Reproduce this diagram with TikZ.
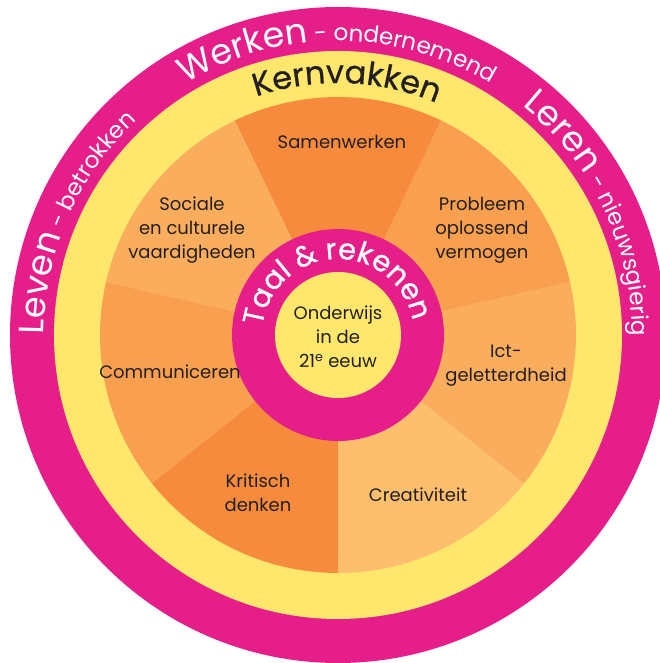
\documentclass[tikz,border=0pt]{standalone}
\usepackage{fontspec}
\setmainfont{Poppins}
\newfontfamily\boldring[FakeBold=0.7]{Poppins}
\usepackage{tikz}
\usetikzlibrary{decorations.text}
\definecolor{ringpink}{RGB}{230,30,138}
\definecolor{ringyellow}{RGB}{255,230,108}
\definecolor{orangedark}{RGB}{246,139,61}
\definecolor{orangemid}{RGB}{249,160,80}
\definecolor{orangelight}{RGB}{251,173,94}
\definecolor{orangepale}{RGB}{253,190,110}
\definecolor{textdark}{RGB}{35,31,32}

\begin{document}
\begin{tikzpicture}[x=1pt, y=1pt,
		skill/.style={align=center, text=textdark, font=\fontsize{18}{24}\selectfont}]

		\useasboundingbox (-338,-328) rectangle (321,335);

		% outer rings
		\fill[ringpink] (0,0) circle (328);
		\fill[ringyellow] (0,0) circle (284);

		% seven wedges
		\foreach \a/\c in {64.29/orangedark, 115.71/orangelight, 167.14/orangemid, 218.57/orangedark, 270/orangepale, 321.43/orangelight, 12.86/orangemid}
			\fill[\c] (0,0) -- (\a:238) arc[start angle=\a, delta angle=51.43, radius=238] -- cycle;

		% centre rings
		\fill[ringpink] (0,0) circle (106);
		\fill[ringyellow] (0,0) circle (63);

		% skills
		\node[skill] (samen) at (4,193) {Samenwerken};
		\node[skill] (sociaal) at (-146,105) {Sociale\\en culturele\\vaardigheden};
		\node[skill] (probleem) at (144,105) {Probleem\\oplossend\\vermogen};
		\node[skill] (commu) at (-168,-37) {Communiceren};
		\node[skill] (ict) at (168,-31) {Ict-\\geletterdheid};
		\node[skill] (kritisch) at (-80,-158) {Kritisch\\denken};
		\node[skill] (creatief) at (80,-160) {Creativiteit};
		\node[skill] (onderwijs) at (0,-2) {Onderwijs\\in de\\21\textsuperscript{e} eeuw};

		% text round the rings
		\path[decorate, decoration={text along path, text align=center,
			text={|\color{white}\fontsize{35}{35}\selectfont|Werken|\color{white}\fontsize{23}{23}\selectfont| - ondernemend}}]
			(130:294) arc[start angle=130, end angle=50, radius=294];
		\path[decorate, decoration={text along path, text align=center,
			text={|\color{white}\fontsize{35}{35}\selectfont|Leven|\color{white}\fontsize{23}{23}\selectfont| - betrokken}}]
			(196.5:294) arc[start angle=196.5, end angle=116.5, radius=294];
		\path[decorate, decoration={text along path, text align=center,
			text={|\color{white}\fontsize{35}{35}\selectfont|Leren|\color{white}\fontsize{23}{23}\selectfont| - nieuwsgierig}}]
			(65.5:294) arc[start angle=65.5, end angle=-14.5, radius=294];
		\path[decorate, decoration={text along path, text align=center,
			text={|\color{textdark}\boldring\fontsize{32}{32}\selectfont|Kernvakken}}]
			(128:252) arc[start angle=128, end angle=48, radius=252];
		\path[decorate, decoration={text along path, text align=center,
			text={|\color{white}\boldring\fontsize{29}{29}\selectfont|Taal {\&} rekenen}}]
			(182:76) arc[start angle=182, end angle=2, radius=76];

\end{tikzpicture}
\end{document}
